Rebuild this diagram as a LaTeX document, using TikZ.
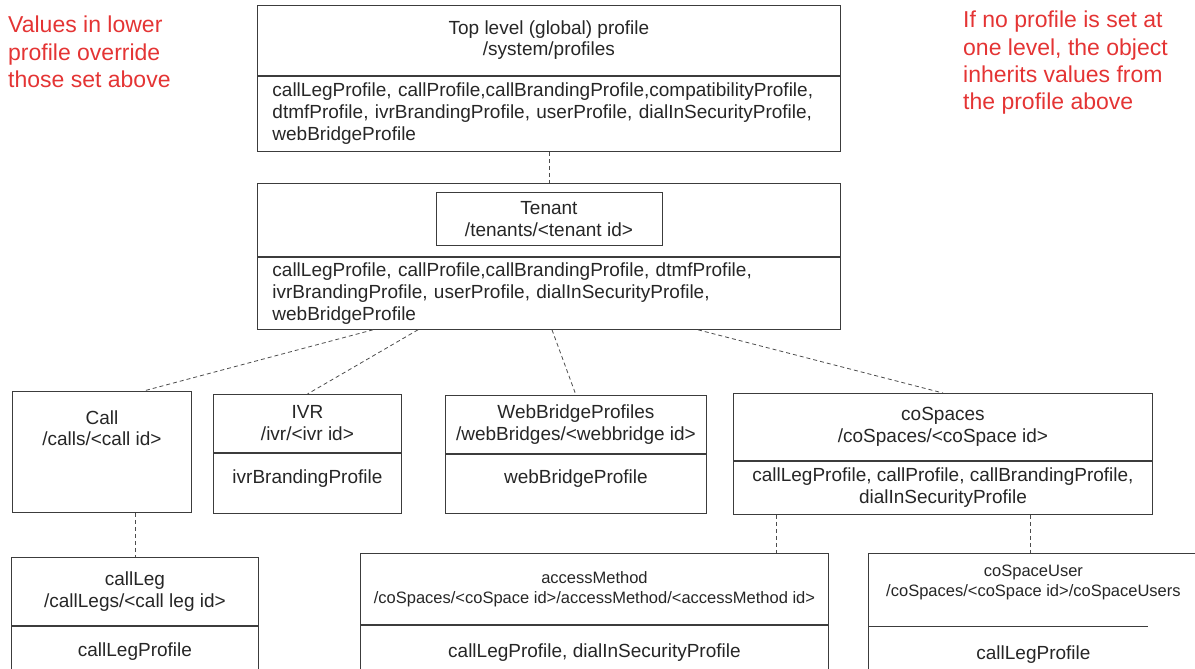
\documentclass[tikz,border=0pt]{standalone}
\usepackage{fontspec}
\setmainfont{Liberation Sans}
\usetikzlibrary{positioning}

\definecolor{notered}{RGB}{228,52,52}
\definecolor{boxline}{RGB}{60,60,60}

\begin{document}
\begin{tikzpicture}[x=1pt, y=-1pt, font=\fontsize{19}{22}\selectfont,
	box/.style={draw=boxline, line width=0.9pt, inner sep=0pt, anchor=north west, align=center, text=black!85},
	part/.style={box, anchor=north},
	link/.style={draw=black!70, dash pattern=on 4pt off 3pt, line width=0.8pt},
	note/.style={text=notered, font=\fontsize{23}{27.3}\selectfont, align=left, anchor=north west, inner sep=0pt},
	small/.style={font=\fontsize{16.5}{20}\selectfont}]

	\useasboundingbox (0,0) rectangle (1195,669);

	% notes
	\node [note] (note-left) at (8,16) {Values in lower\\profile override\\those set above};
	\node [note] (note-right) at (963,11) {If no profile is set at\\one level, the object\\inherits values from\\the profile above};

	% global profile
	\node [box, font=\fontsize{19}{21}\selectfont, minimum width=583pt, minimum height=70pt] (top-head) at (257,5) {Top level (global) profile\\/system/profiles};
	\node [part, minimum width=583pt, minimum height=75pt, text width=553pt, align=left] (top-body) at (top-head.south)
		{callLegProfile, callProfile,callBrandingProfile,compatibilityProfile,\\dtmfProfile, ivrBrandingProfile, userProfile, dialInSecurityProfile,\\webBridgeProfile};

	% tenant
	\node [box, minimum width=583pt, minimum height=73pt] (tenant-head) at (257,183) {};
	\node [part, minimum width=226pt, minimum height=53pt, below=9pt of tenant-head.north] (tenant-id) {Tenant\\/tenants/<tenant id>};
	\node [part, minimum width=583pt, minimum height=72pt, text width=553pt, align=left] (tenant-body) at (tenant-head.south)
		{callLegProfile, callProfile,callBrandingProfile, dtmfProfile,\\ivrBrandingProfile, userProfile, dialInSecurityProfile,\\webBridgeProfile};

	% second level
	\node [box, minimum width=179pt, minimum height=121pt] (call) at (12,391) {};
	\node [below=20pt of call.north, align=center, inner sep=0pt, text=black!85, font=\fontsize{19}{21}\selectfont] (call-text) {Call\\/calls/<call id>};

	\node [box, minimum width=188pt, minimum height=58pt] (ivr-head) at (213,394) {IVR\\/ivr/<ivr id>};
	\node [part, minimum width=188pt, minimum height=60pt, text depth=14pt] (ivr-body) at (ivr-head.south) {ivrBrandingProfile};

	\node [box, minimum width=261pt, minimum height=58pt] (wb-head) at (445,395) {WebBridgeProfiles\\/webBridges/<webbridge id>};
	\node [part, minimum width=261pt, minimum height=59pt, text depth=14pt] (wb-body) at (wb-head.south) {webBridgeProfile};

	\node [box, minimum width=419pt, minimum height=67pt] (cospace-head) at (733,393) {coSpaces\\/coSpaces/<coSpace id>};
	\node [part, minimum width=419pt, minimum height=53pt] (cospace-body) at (cospace-head.south)
		{callLegProfile, callProfile, callBrandingProfile,\\dialInSecurityProfile};

	% third level
	\node [box, minimum width=247pt, minimum height=68pt] (leg-head) at (11,557) {callLeg\\/callLegs/<call leg id>};
	\node [part, minimum width=247pt, minimum height=50pt] (leg-body) at (leg-head.south) {callLegProfile};

	\node [box, small, minimum width=468pt, minimum height=71pt] (access-head) at (360,553)
		{accessMethod\\/coSpaces/<coSpace id>/accessMethod/<accessMethod id>};
	\node [part, minimum width=468pt, minimum height=54pt] (access-body) at (access-head.south) {callLegProfile, dialInSecurityProfile};

	\node [box, small, draw=none, minimum width=330pt, minimum height=58pt] (user-head) at (868,553)
		{coSpaceUser\\/coSpaces/<coSpace id>/coSpaceUsers};
	\node [part, draw=none, minimum width=330pt, minimum height=84pt] (user-body) at (user-head.south) {callLegProfile};
	\draw [draw=boxline, line width=0.9pt] (user-head.north east) -- (user-head.north west) -- (user-body.south west);
	\draw [draw=boxline, line width=0.9pt] (user-head.south west) ++(0,15) -- ++(280,0);

	% connectors
	\draw [link] (top-body) -- (tenant-head);

	\coordinate (call-in) at ([xshift=41.5pt]call.north);
	\foreach \dx/\n in {116/call-in, 161/ivr-head.north, 295/wb-head.north, 441/cospace-head.north}
		\draw [link] ([xshift=\dx pt]tenant-body.south west) -- (\n);

	\draw [link] (leg-head.north |- call.south) -- (leg-head.north);
	\draw [link] ([xshift=43pt]cospace-body.south west) -- ([xshift=416pt]access-head.north west);
	\draw [link] ([xshift=297pt]cospace-body.south west) -- ([xshift=162pt]user-head.north west);

\end{tikzpicture}
\end{document}
